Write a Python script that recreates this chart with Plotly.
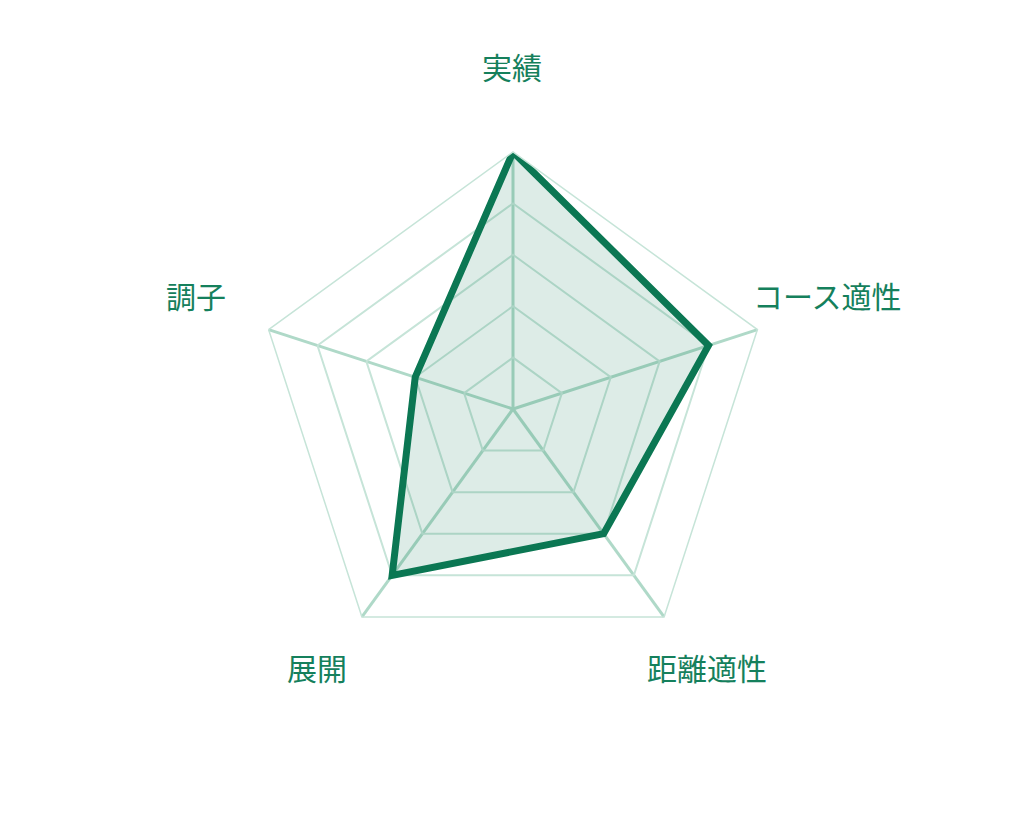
import math
import plotly.graph_objects as go

categories = ["実績", "コース適性", "距離適性", "展開", "調子"]
scores = [5, 4, 3, 4, 2]

line_color = "#0b7753"
grid_ring = "#c6e4d8"
grid_spoke = "#afd9c8"
label_color = "#15805c"

W, H = 1024, 820
cx, cy, rad = 505, 401, 257   # polar centre / radius in px (domain)

fig = go.Figure(go.Scatterpolar(
    r=scores + scores[:1],
    theta=categories + categories[:1],
    mode="lines",
    fill="toself",
    fillcolor="rgba(11,122,85,0.14)",
    line=dict(color=line_color, width=7),
    hoverinfo="skip",
))

# category labels placed round the chart
annotations = []
for i, name in enumerate(categories):
    ang = math.radians(90 - 72 * i)
    lx = 504 + 332 * math.cos(ang)
    ly = 390 - 332 * math.sin(ang)
    annotations.append(dict(
        text=name, x=lx / W, y=1 - ly / H, xref="paper", yref="paper",
        showarrow=False, xanchor="center", yanchor="middle",
        font=dict(size=30, color=label_color, family="Noto Sans CJK JP"),
    ))

fig.update_layout(
    width=W, height=H,
    margin=dict(l=0, r=0, t=0, b=0),
    paper_bgcolor="white",
    showlegend=False,
    annotations=annotations,
    polar=dict(
        domain=dict(x=[(cx - rad) / W, (cx + rad) / W],
                    y=[1 - (cy + rad) / H, 1 - (cy - rad) / H]),
        bgcolor="rgba(0,0,0,0)",
        gridshape="linear",
        radialaxis=dict(
            range=[0, 5], dtick=1, showticklabels=False, ticks="",
            showline=False, gridcolor=grid_ring, gridwidth=1.5,
        ),
        angularaxis=dict(
            direction="clockwise", rotation=90,
            showticklabels=False, ticks="",
            showline=True, linecolor=grid_ring, linewidth=1.5,
            gridcolor=grid_spoke, gridwidth=3,
        ),
    ),
)

fig.write_html("out.html")
